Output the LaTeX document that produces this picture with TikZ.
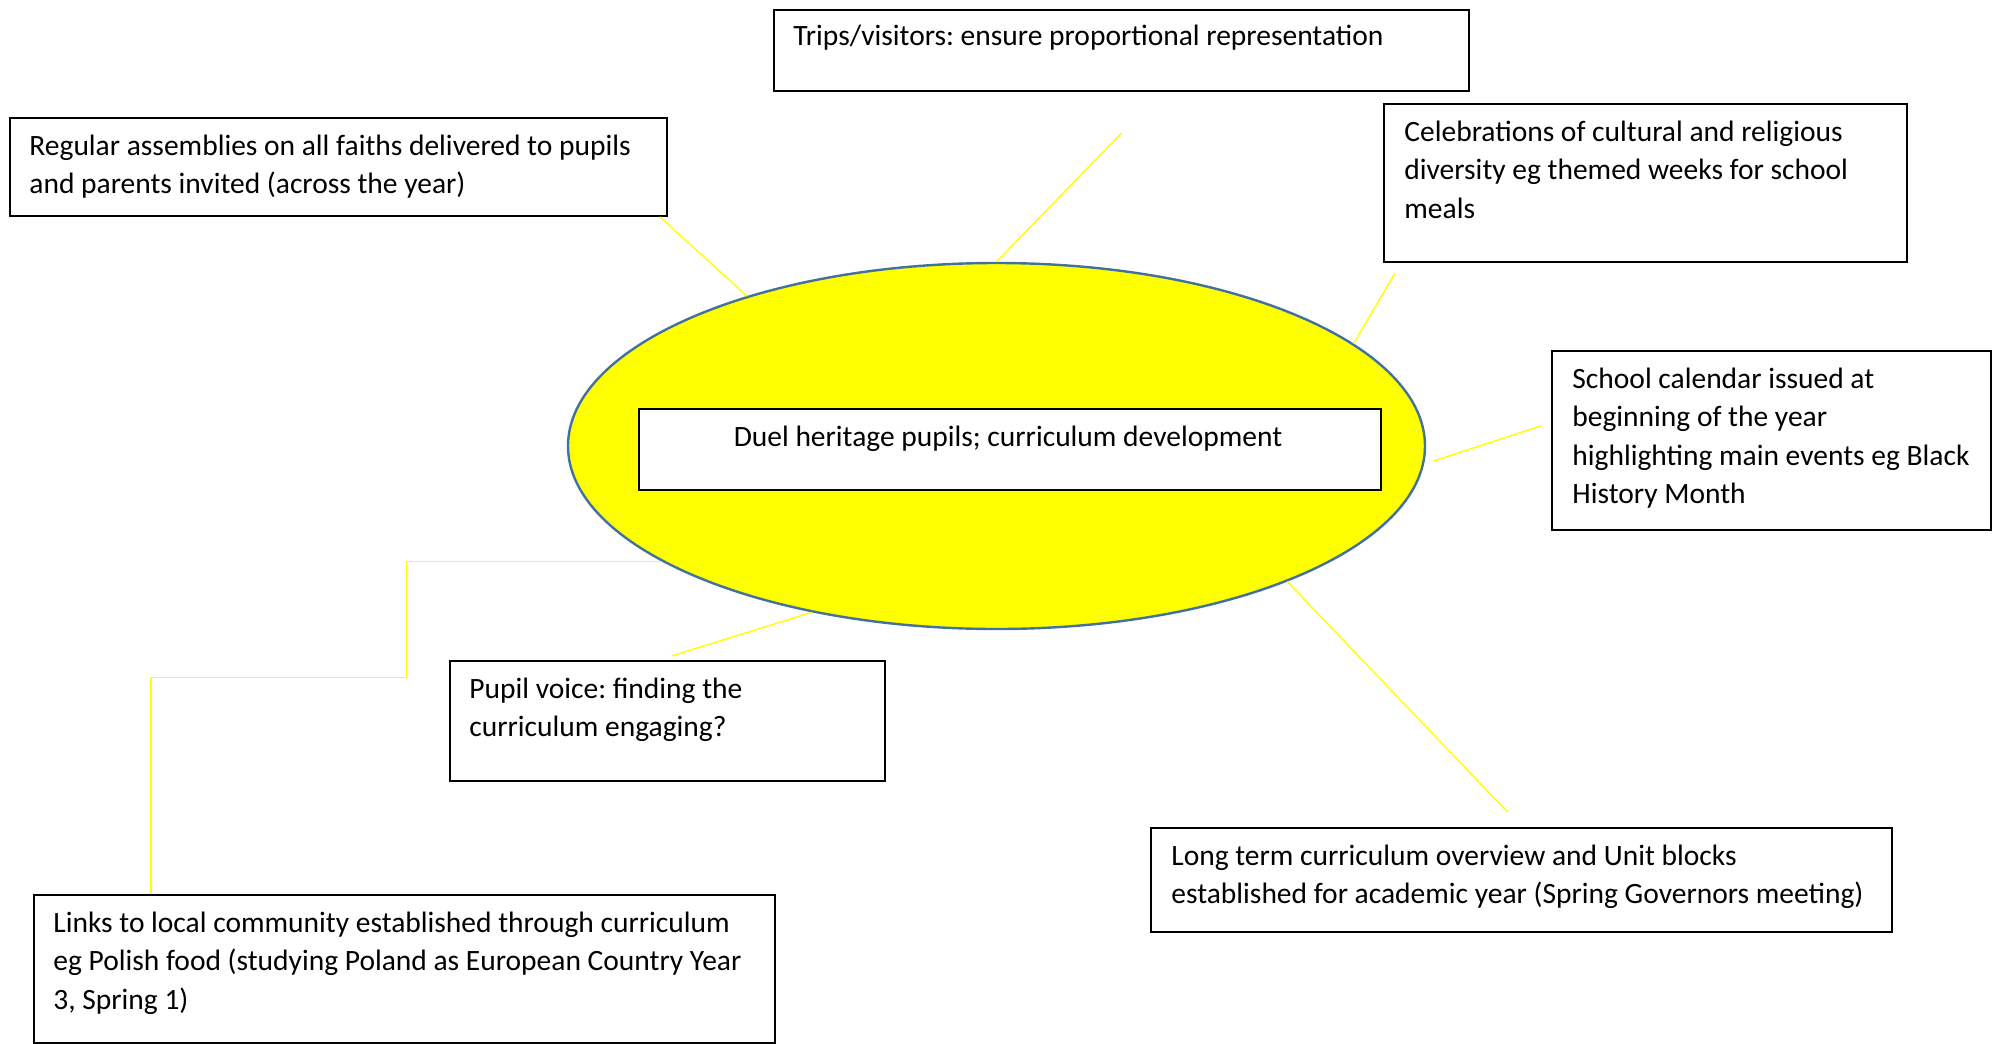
\documentclass[tikz,border=0pt]{standalone}
\usepackage{fontspec}
\setmainfont{Carlito}
\frenchspacing
\usetikzlibrary{shapes.geometric}
\definecolor{ellfill}{HTML}{FFFF00}
\definecolor{ellline}{HTML}{41719C}
\definecolor{linkcol}{HTML}{FFFF00}
\newcommand\cardlines[1]{\begin{tabular}[t]{@{}l@{}}#1\end{tabular}}
\tikzset{
  card/.style={draw=black, line width=1pt, fill=white, inner sep=0pt, anchor=north west},
  txt/.style={anchor=base west, inner sep=0pt, font=\fontsize{14.75pt}{19.25pt}\selectfont},
  hub/.style={ellipse, draw=ellline, line width=1.2pt, fill=ellfill, inner sep=0pt,
              minimum width=428.5pt, minimum height=183pt},
  link/.style={draw=linkcol, line width=0.7pt}
}
\begin{document}
\begin{tikzpicture}[x=0.5pt,y=-0.5pt]
\useasboundingbox (0,0) rectangle (1992,1044);
\fill[white] (0,0) rectangle (1992,1044);

% central ellipse and inner box
\node[hub] (ell) at (996.5,446) {};
\node[card, minimum width=371pt, minimum height=40.5pt] (inner) at (638,408) {};
\node[txt, anchor=base] (innert) at (1008,446) {Duel heritage pupils; curriculum development};

% outer cards
\node[card, minimum width=347.5pt, minimum height=40.5pt] (trips) at (773,9) {};
\node[txt] (tripst) at (793,45) {Trips/visitors: ensure proportional representation};

\node[card, minimum width=328.5pt, minimum height=49pt] (asm) at (9,117) {};
\node[txt] (asmt) at (29,155) {\cardlines{Regular assemblies on all faiths delivered to pupils\\and parents invited (across the year)}};

\node[card, minimum width=261.5pt, minimum height=79pt] (cel) at (1383,103) {};
\node[txt] (celt) at (1404,141) {\cardlines{Celebrations of cultural and religious\\diversity eg themed weeks for school\\meals}};

\node[card, minimum width=219.5pt, minimum height=89.5pt] (cal) at (1551,350) {};
\node[txt] (calt) at (1572,388) {\cardlines{School calendar issued at\\beginning of the year\\highlighting main events eg Black\\History Month}};

\node[card, minimum width=217.5pt, minimum height=60pt] (pupil) at (449,660) {};
\node[txt] (pupilt) at (469,698) {\cardlines{Pupil voice: finding the\\curriculum engaging?}};

\node[card, minimum width=370.5pt, minimum height=74pt] (links) at (33,894) {};
\node[txt] (linkst) at (53,932) {\cardlines{Links to local community established through curriculum\\eg Polish food (studying Poland as European Country Year\\3, Spring 1)}};

\node[card, minimum width=370.5pt, minimum height=52pt] (long) at (1150,827) {};
\node[txt] (longt) at (1171,865) {\cardlines{Long term curriculum overview and Unit blocks\\established for academic year (Spring Governors meeting)}};

% connectors
\draw[link] ([xshift=-4pt]asm.south east) -- (ell.149.5);
\draw[link] ([yshift=-20.5pt]trips.south) -- (ell.90);
\draw[link] ([shift={(6pt,-5pt)}]cel.south west) -- (ell.16.1);
\draw[link] ([shift={(-4.5pt,7.5pt)}]cal.west) -- ([xshift=4.5pt]ell.-2.4);
\draw[link] ([shift={(-7pt,7.5pt)}]long.north) -- (ell.-25.8);
\draw[link] ([shift={(2pt,2pt)}]pupil.north) -- (ell.-138.5);
\draw[link] (ell.-161) -- ++(-255,0) -- ++(0,116) -| ([xshift=59pt]links.north west);
\end{tikzpicture}
\end{document}
